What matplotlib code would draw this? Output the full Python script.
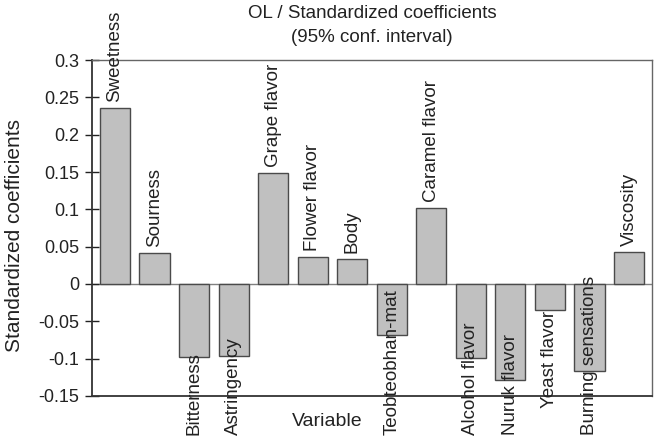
import matplotlib
matplotlib.use("Agg")
import matplotlib.pyplot as plt
from matplotlib.transforms import offset_copy

plt.rcParams['font.family'] = ['Liberation Sans', 'DejaVu Sans']

categories = ["Sweetness", "Sourness", "Bitterness", "Astringency", "Grape flavor",
              "Flower flavor", "Body", "Teobteobhan-mat", "Caramel flavor",
              "Alcohol flavor", "Nuruk flavor", "Yeast flavor", "Burning sensations",
              "Viscosity"]
values = [0.236, 0.042, -0.098, -0.096, 0.148, 0.036, 0.034, -0.068, 0.102,
          -0.0995, -0.128, -0.035, -0.117, 0.043]
yticks = [-0.15, -0.1, -0.05, 0, 0.05, 0.1, 0.15, 0.2, 0.25, 0.3]
ytick_labels = ["-0.15", "-0.1", "-0.05", "0", "0.05", "0.1", "0.15", "0.2", "0.25", "0.3"]

W, H = 665, 442
fig = plt.figure(figsize=(W / 100, H / 100), dpi=100)
ax = fig.add_axes([92 / W, 46 / H, 560 / W, 336 / H])

x = list(range(len(categories)))
ax.axhline(0, color='#808080', lw=1.0, zorder=1)
ax.bar(x, values, width=0.76, color='#c0c0c0', edgecolor='#4a4a4a', lw=1.0, zorder=2)

ax.set_xlim(-0.58, len(categories) - 0.42)
ax.set_ylim(-0.15, 0.3)
ax.set_yticks(yticks)
ax.set_yticklabels(ytick_labels)
ax.set_xticks([])
ax.tick_params(axis='y', direction='inout', length=10, width=1.0, labelsize=13,
               colors='#222222', pad=4)
for s in ['left', 'bottom']:
    ax.spines[s].set_color('#333333')
    ax.spines[s].set_linewidth(1.3)
for s in ['top', 'right']:
    ax.spines[s].set_color('#666666')
    ax.spines[s].set_linewidth(1.0)

fig.text(15 / W, 1 - 235 / H, "Standardized coefficients", rotation=90,
         ha='center', va='center', fontsize=15, color='#222222')
fig.text(0.5 * (92 + 652) / W, 1 - 13 / H, "OL / Standardized coefficients",
         ha='center', va='center', fontsize=13.5, color='#222222')
fig.text(0.5 * (92 + 652) / W, 1 - 38 / H, "(95% conf. interval)",
         ha='center', va='center', fontsize=13.5, color='#222222')
fig.text(327 / W, 1 - 422 / H, "Variable", ha='center', va='center',
         fontsize=14, color='#222222')

texts = []
for xi, v, lab in zip(x, values, categories):
    if v >= 0:
        tr = offset_copy(ax.transData, fig=fig, x=0, y=6, units='dots')
        t = ax.text(xi, v, lab, rotation=90, ha='center', va='bottom',
                    fontsize=13.5, color='#222222', transform=tr, clip_on=False)
    else:
        tr = offset_copy(ax.transData, fig=fig, x=0, y=-1, units='dots')
        t = ax.text(xi, v, lab, rotation=90, ha='center', va='top',
                    fontsize=13.5, color='#222222', transform=tr, clip_on=False)
        texts.append(t)

fig.canvas.draw()
renderer = fig.canvas.get_renderer()
for t in texts:
    bb = t.get_window_extent(renderer)
    if bb.y0 < 7:
        shift = 7 - bb.y0
        t.set_transform(offset_copy(ax.transData, fig=fig, x=0, y=-1 + shift, units='dots'))

fig.savefig("out.png", dpi=100)
